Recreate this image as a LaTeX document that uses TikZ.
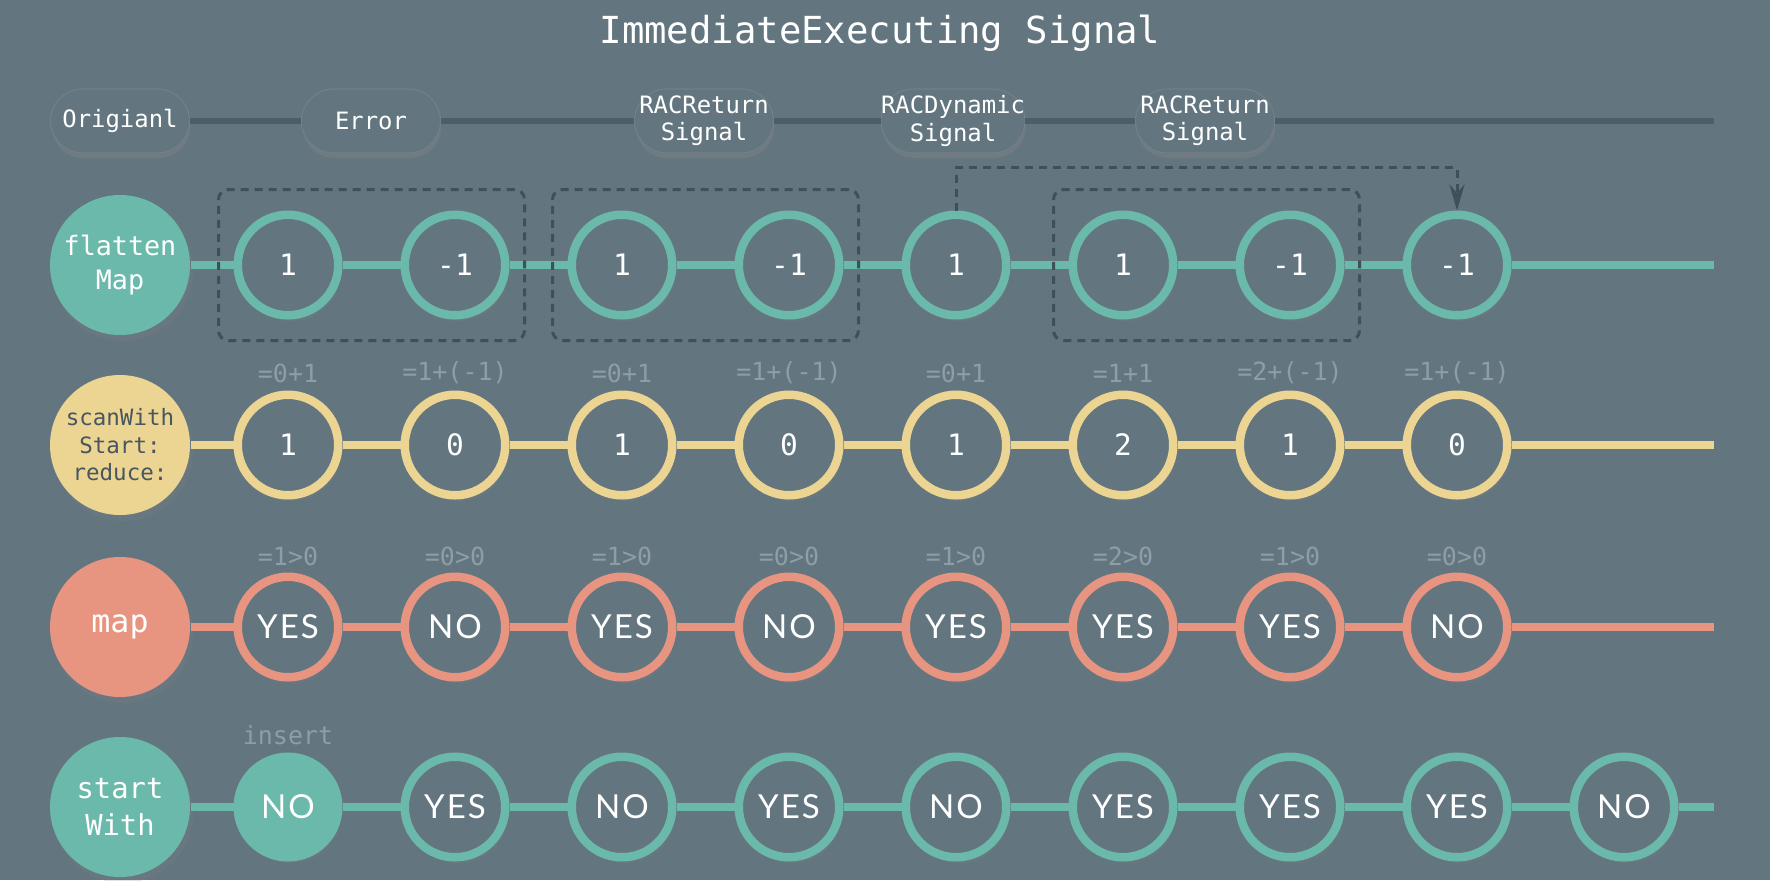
\documentclass[tikz,border=0pt]{standalone}
\usepackage{fontspec}
\usepackage{tikz}
\usetikzlibrary{positioning,fit,calc,arrows.meta,shadows}
\newfontfamily\monof{DejaVu Sans Mono}
\newfontfamily\yesnof[LetterSpace=6]{Lato}
\definecolor{bgcol}{RGB}{99,118,128}
\definecolor{tealc}{RGB}{107,185,171}
\definecolor{yelc}{RGB}{236,212,146}
\definecolor{redc}{RGB}{231,148,128}
\definecolor{dashc}{RGB}{64,80,90}
\definecolor{notec}{RGB}{142,157,166}
\definecolor{linec}{RGB}{78,94,104}
\definecolor{darktxt}{RGB}{72,86,96}
\tikzset{
  shd/.style={drop shadow={opacity=0.22,shadow xshift=0.3mm,shadow yshift=-0.6mm}},
  rowline/.style={-,line width=0.8mm,draw=#1}
}

\begin{document}
\begin{tikzpicture}[x=1cm,y=1cm,
  opcirc/.style={circle,shd,minimum size=14mm,inner sep=0pt,align=center},
  val/.style={circle,shd,line width=0.85mm,draw=#1,fill=bgcol,minimum size=10.05mm,inner sep=0pt,text=white,font=\monof\fontsize{8.4}{10}\selectfont},
  yn/.style={font=\yesnof\fontsize{9.4}{11}\selectfont},
  pill/.style={rectangle,rounded corners=3.2mm,drop shadow={opacity=0.45,shadow xshift=0.1mm,shadow yshift=-0.5mm},fill=bgcol,draw=bgcol!92!white,line width=0.3pt,minimum width=13.9mm,minimum height=6.4mm,inner sep=0pt,align=center,text=white,font=\monof\fontsize{6.8}{7.7}\selectfont},
  sigline/.style={-,line width=0.6mm,draw=linec},
  note/.style={text=notec,font=\monof\fontsize{7.1}{8}\selectfont},
  dbox/.style={draw=dashc,line width=0.3mm,dash pattern=on 0.8mm off 0.6mm,rounded corners=1mm,inner xsep=1.5mm,inner ysep=2.1mm},
  darr/.style={draw=dashc,line width=0.3mm,dash pattern=on 0.8mm off 0.6mm,-{Stealth[length=2.6mm,width=1.5mm]}}]

  \fill[bgcol] (0,0) rectangle (17.70,-8.80);
  \node[text=white,font=\monof\fontsize{10.6}{12}\selectfont] (title) at (8.80,-0.33) {ImmediateExecuting Signal};

  \node[pill] (s0) at (1.20,-1.21) {Origianl};
  \node[pill] (s1) at (3.71,-1.21) {Error};
  \node[pill] (s2) at (7.04,-1.21) {RACReturn\\Signal};
  \node[pill] (s3) at (9.53,-1.21) {RACDynamic\\Signal};
  \node[pill] (s4) at (12.05,-1.21) {RACReturn\\Signal};
  \coordinate (s5) at (17.14,-1.21);
  \foreach \i [evaluate=\i as \j using int(\i+1)] in {0,...,4}
    \draw[sigline] (s\i) -- (s\j);

  \node[opcirc,fill=tealc,text=white,font=\monof\fontsize{7.6}{9.7}\selectfont] (f0) at (1.20,-2.65) {flatten\\Map};
  \foreach \v [count=\i] in {1,-1,1,-1,1,1,-1,-1}
    \node[val=tealc] (f\i) at (1.21+1.67*\i,-2.65) {\v};
  \coordinate (f9) at (17.14,-2.65);
  \foreach \i [evaluate=\i as \j using int(\i+1)] in {0,...,8}
    \draw[rowline=tealc] (f\i) -- (f\j);

  \node[dbox,fit=(f1)(f2)] (box1) {};
  \node[dbox,fit=(f3)(f4)] (box2) {};
  \node[dbox,fit=(f6)(f7)] (box3) {};
  \draw[darr] (f5.north) -- ++(0,0.43) -| (f8.north);

  \node[opcirc,fill=yelc,text=darktxt,font=\monof\fontsize{6.4}{7.8}\selectfont] (r0) at (1.20,-4.45) {scanWith\\Start:\\reduce:};
  \foreach \v/\n [count=\i] in {1/{=0+1},0/{=1+(-1)},1/{=0+1},0/{=1+(-1)},1/{=0+1},2/{=1+1},1/{=2+(-1)},0/{=1+(-1)}}{
    \node[val=yelc] (r\i) at (1.21+1.67*\i,-4.45) {\v};
    \node[note] (rn\i) at (1.21+1.67*\i,-3.73) {\n};
  }
  \coordinate (r9) at (17.14,-4.45);
  \foreach \i [evaluate=\i as \j using int(\i+1)] in {0,...,8}
    \draw[rowline=yelc] (r\i) -- (r\j);

  \node[opcirc,fill=redc,text=white,font=\monof\fontsize{9}{11}\selectfont] (m0) at (1.20,-6.27) {map};
  \foreach \v/\n [count=\i] in {YES/{=1>0},NO/{=0>0},YES/{=1>0},NO/{=0>0},YES/{=1>0},YES/{=2>0},YES/{=1>0},NO/{=0>0}}{
    \node[val=redc,yn] (m\i) at (1.21+1.67*\i,-6.27) {\v};
    \node[note] (mn\i) at (1.21+1.67*\i,-5.56) {\n};
  }
  \coordinate (m9) at (17.14,-6.27);
  \foreach \i [evaluate=\i as \j using int(\i+1)] in {0,...,8}
    \draw[rowline=redc] (m\i) -- (m\j);

  \node[opcirc,fill=tealc,text=white,font=\monof\fontsize{8.2}{10.5}\selectfont] (w0) at (1.20,-8.07) {start\\With};
  \node[val=tealc,fill=tealc,yn] (w1) at (2.88,-8.07) {NO};
  \node[note] (ins) at (2.88,-7.35) {insert};
  \foreach \v [count=\i from 2] in {YES,NO,YES,NO,YES,YES,YES,NO}
    \node[val=tealc,yn] (w\i) at (1.21+1.67*\i,-8.07) {\v};
  \coordinate (w10) at (17.14,-8.07);
  \foreach \i [evaluate=\i as \j using int(\i+1)] in {0,...,9}
    \draw[rowline=tealc] (w\i) -- (w\j);

\end{tikzpicture}
\end{document}
